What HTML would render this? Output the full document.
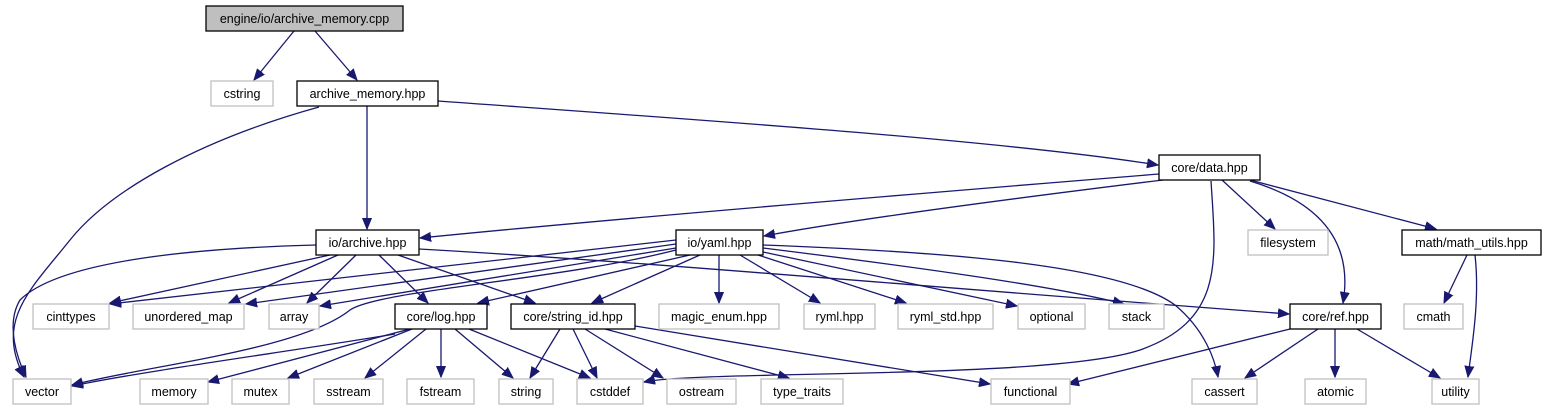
<!DOCTYPE html>
<html><head><meta charset="utf-8"><style>
html,body{margin:0;padding:0;background:#fff;}
svg{display:block;}
text{font-family:"Liberation Sans",Arial,sans-serif;font-size:12.5px;fill:#000;text-anchor:middle;}
.n{fill:#fff;stroke:#000;stroke-width:1.3;}
.l{fill:#fff;stroke:#bfbfbf;stroke-width:1.3;}
.e{fill:none;stroke:#191970;stroke-width:1.3;}
</style></head><body>
<svg width="1546" height="411" viewBox="0 0 1546 411" xmlns="http://www.w3.org/2000/svg">
<defs><marker id="a" markerWidth="12" markerHeight="10" refX="11" refY="5" orient="auto" markerUnits="userSpaceOnUse"><path d="M0,0.5 L11,5 L0,9.5 Z" fill="#191970" stroke="#191970"/></marker></defs>
<g marker-end="url(#a)">
<path class="e" d="M294,31 L254,80"/>
<path class="e" d="M315,31 L357,80"/>
<path class="e" d="M319,107 C200,140 110,190 70,240 C30,290 -5,320 24,377"/>
<path class="e" d="M367,106 L367,229"/>
<path class="e" d="M438,101 C700,120 1000,140 1158,165"/>
<path class="e" d="M1159,174 C900,195 600,220 420,238"/>
<path class="e" d="M1163,180 C1000,200 850,220 764,236"/>
<path class="e" d="M1222,180 L1275,229"/>
<path class="e" d="M1250,180 L1436,229"/>
<path class="e" d="M1250,181 C1330,205 1352,250 1343,303"/>
<path class="e" d="M1211,181 C1216,260 1225,320 1140,350 C1050,380 700,370 644,382"/>
<path class="e" d="M1467,255 L1444,303"/>
<path class="e" d="M1475,255 C1480,300 1472,345 1468,377"/>
<path class="e" d="M316,245 C200,248 60,260 20,300 C5,325 18,360 26,377"/>
<path class="e" d="M330,255 L110,303"/>
<path class="e" d="M338,255 L229,303"/>
<path class="e" d="M356,255 L307,303"/>
<path class="e" d="M379,255 L428,303"/>
<path class="e" d="M398,255 L535,303"/>
<path class="e" d="M419,249 C650,262 900,285 1289,314"/>
<path class="e" d="M676,240 L110,304"/>
<path class="e" d="M676,244 L246,304"/>
<path class="e" d="M676,248 L320,306"/>
<path class="e" d="M690,255 L478,303"/>
<path class="e" d="M676,250 C560,280 380,290 350,310 C300,350 150,365 72,385"/>
<path class="e" d="M700,255 L592,303"/>
<path class="e" d="M719,255 L719,303"/>
<path class="e" d="M740,255 L820,303"/>
<path class="e" d="M758,255 L906,303"/>
<path class="e" d="M763,252 L1017,306"/>
<path class="e" d="M763,248 C900,265 1050,285 1124,304"/>
<path class="e" d="M763,245 C950,252 1120,265 1175,305 C1205,330 1215,360 1218,377"/>
<path class="e" d="M395,334 C300,350 150,370 72,386"/>
<path class="e" d="M410,329 L208,382"/>
<path class="e" d="M412,329 L288,378"/>
<path class="e" d="M426,329 L365,378"/>
<path class="e" d="M441,329 L441,377"/>
<path class="e" d="M455,329 L513,378"/>
<path class="e" d="M469,329 L590,378"/>
<path class="e" d="M560,329 L530,378"/>
<path class="e" d="M573,329 L597,378"/>
<path class="e" d="M585,329 L663,378"/>
<path class="e" d="M605,329 L789,378"/>
<path class="e" d="M635,326 L990,384"/>
<path class="e" d="M1290,329 L1068,384"/>
<path class="e" d="M1318,329 L1245,378"/>
<path class="e" d="M1335,329 L1335,377"/>
<path class="e" d="M1357,329 L1440,378"/>
</g>
<rect x="206" y="6" width="197" height="25" fill="#bfbfbf" stroke="#000" stroke-width="1.3"/><text x="304.5" y="23">engine/io/archive_memory.cpp</text>
<rect class="l" x="211" y="81" width="62" height="25"/><text x="242" y="98">cstring</text>
<rect class="n" x="297" y="81" width="141" height="25"/><text x="367.5" y="98">archive_memory.hpp</text>
<rect class="n" x="1159" y="155" width="101" height="25"/><text x="1209.5" y="172">core/data.hpp</text>
<rect class="n" x="316" y="230" width="103" height="25"/><text x="367.5" y="247">io/archive.hpp</text>
<rect class="n" x="676" y="230" width="87" height="25"/><text x="719.5" y="247">io/yaml.hpp</text>
<rect class="l" x="1248" y="230" width="80" height="25"/><text x="1288" y="247">filesystem</text>
<rect class="n" x="1402" y="230" width="139" height="25"/><text x="1471.5" y="247">math/math_utils.hpp</text>
<rect class="l" x="33" y="304" width="76" height="25"/><text x="71" y="321">cinttypes</text>
<rect class="l" x="133" y="304" width="111" height="25"/><text x="188.5" y="321">unordered_map</text>
<rect class="l" x="269" y="304" width="50" height="25"/><text x="294" y="321">array</text>
<rect class="n" x="395" y="304" width="92" height="25"/><text x="441" y="321">core/log.hpp</text>
<rect class="n" x="511" y="304" width="124" height="25"/><text x="573" y="321">core/string_id.hpp</text>
<rect class="l" x="659" y="304" width="120" height="25"/><text x="719" y="321">magic_enum.hpp</text>
<rect class="l" x="804" y="304" width="71" height="25"/><text x="839.5" y="321">ryml.hpp</text>
<rect class="l" x="898" y="304" width="95" height="25"/><text x="945.5" y="321">ryml_std.hpp</text>
<rect class="l" x="1018" y="304" width="67" height="25"/><text x="1051.5" y="321">optional</text>
<rect class="l" x="1109" y="304" width="55" height="25"/><text x="1136.5" y="321">stack</text>
<rect class="n" x="1290" y="304" width="91" height="25"/><text x="1335.5" y="321">core/ref.hpp</text>
<rect class="l" x="1404" y="304" width="59" height="25"/><text x="1433.5" y="321">cmath</text>
<rect class="l" x="13" y="379" width="58" height="25"/><text x="42" y="396">vector</text>
<rect class="l" x="140" y="379" width="68" height="25"/><text x="174" y="396">memory</text>
<rect class="l" x="232" y="379" width="57" height="25"/><text x="260.5" y="396">mutex</text>
<rect class="l" x="314" y="379" width="69" height="25"/><text x="348.5" y="396">sstream</text>
<rect class="l" x="407" y="379" width="67" height="25"/><text x="440.5" y="396">fstream</text>
<rect class="l" x="499" y="379" width="54" height="25"/><text x="526" y="396">string</text>
<rect class="l" x="577" y="379" width="66" height="25"/><text x="610" y="396">cstddef</text>
<rect class="l" x="667" y="379" width="69" height="25"/><text x="701.5" y="396">ostream</text>
<rect class="l" x="761" y="379" width="82" height="25"/><text x="802" y="396">type_traits</text>
<rect class="l" x="991" y="379" width="79" height="25"/><text x="1030.5" y="396">functional</text>
<rect class="l" x="1192" y="379" width="65" height="25"/><text x="1224.5" y="396">cassert</text>
<rect class="l" x="1305" y="379" width="61" height="25"/><text x="1335.5" y="396">atomic</text>
<rect class="l" x="1432" y="379" width="47" height="25"/><text x="1455.5" y="396">utility</text>
</svg>
</body></html>
